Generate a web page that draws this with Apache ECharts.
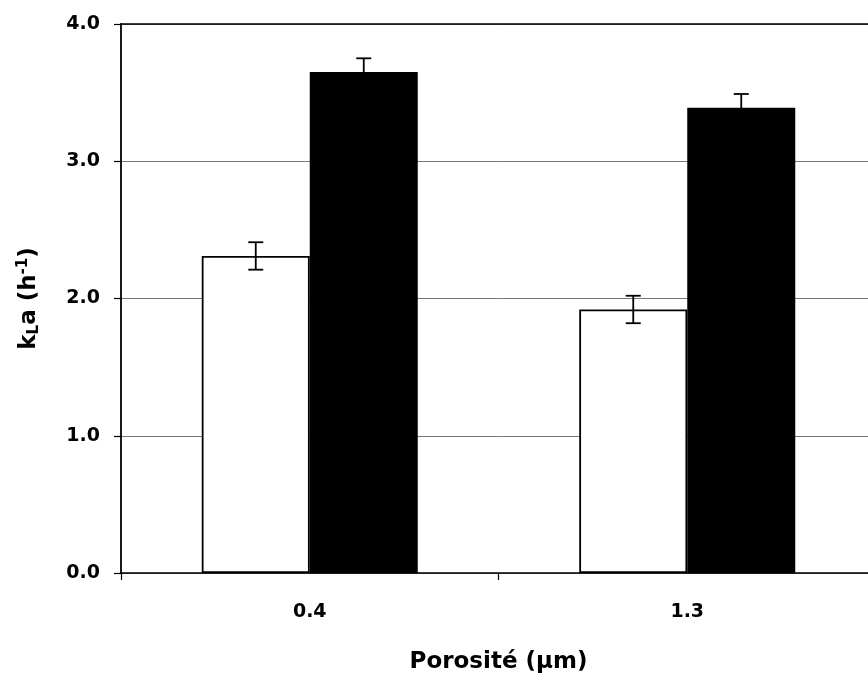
<!DOCTYPE html>
<html>
<head>
<meta charset="utf-8">
<script src="https://cdn.jsdelivr.net/npm/echarts@6/dist/echarts.min.js"></script>
<style>
  html, body { margin: 0; padding: 0; background: #fff; overflow: hidden; }
  #chart { width: 876px; height: 680px; }
</style>
</head>
<body>
<div id="chart"></div>
<script>
var categories = ['0.4', '1.3'];
var whiteVals = [2.31, 1.92];
var blackVals = [3.65, 3.39];
var whiteErr = [0.10, 0.10];
var blackErr = [0.10, 0.10];
var yTicks = [0, 1, 2, 3, 4];

var barW = 108;
var font = '"DejaVu Sans", "Liberation Sans", sans-serif';

// error bars drawn as I shapes, shifted onto each bar of the pair
function errItem(shift) {
    return function (params, api) {
        var idx = api.value(0);
        var lo = api.coord([idx, api.value(1)]);
        var hi = api.coord([idx, api.value(2)]);
        var x = lo[0] + shift;
        var cap = 7.5;
        var st = { stroke: '#000', lineWidth: 1.8 };
        return {
            type: 'group',
            children: [
                { type: 'line', shape: { x1: x, y1: lo[1], x2: x, y2: hi[1] }, style: st },
                { type: 'line', shape: { x1: x - cap, y1: lo[1], x2: x + cap, y2: lo[1] }, style: st },
                { type: 'line', shape: { x1: x - cap, y1: hi[1], x2: x + cap, y2: hi[1] }, style: st }
            ]
        };
    };
}

function errData(vals, errs) {
    return vals.map(function (v, i) { return [i, v - errs[i], v + errs[i]]; });
}

var myChart = echarts.init(document.getElementById('chart'));
myChart.setOption({
    backgroundColor: '#fff',
    animation: false,
    grid: { left: 121, right: 0, top: 24, bottom: 107 },
    xAxis: [{
        type: 'category',
        data: categories,
        name: 'Porosité (μm)',
        nameLocation: 'middle',
        nameGap: 78,
        nameTextStyle: { fontFamily: font, fontWeight: 'bold', fontSize: 23, color: '#000' },
        axisLine: { lineStyle: { color: '#000', width: 1.5 } },
        axisTick: { show: true, length: 7, lineStyle: { color: '#000', width: 1.2 } },
        axisLabel: { margin: 30, fontFamily: font, fontWeight: 'bold', fontSize: 19, color: '#000' }
    }, {
        type: 'category',
        data: categories,
        position: 'top',
        axisLine: { lineStyle: { color: '#000', width: 1.5 } },
        axisTick: { show: false },
        axisLabel: { show: false }
    }],
    yAxis: {
        type: 'value',
        min: yTicks[0],
        max: yTicks[yTicks.length - 1],
        interval: 1,
        name: 'k{sub|L}a (h{sup|-1})',
        nameLocation: 'middle',
        nameGap: 79,
        nameTextStyle: {
            fontFamily: font, fontWeight: 'bold', fontSize: 23, color: '#000',
            rich: {
                sub: { fontFamily: font, fontWeight: 'bold', fontSize: 15, color: '#000', padding: [11, 0, 0, 0] },
                sup: { fontFamily: font, fontWeight: 'bold', fontSize: 15, color: '#000', padding: [0, 0, 11, 0] }
            }
        },
        axisLine: { show: true, lineStyle: { color: '#000', width: 1.8 } },
        axisTick: { show: true, length: 7, lineStyle: { color: '#000', width: 1.2 } },
        axisLabel: {
            margin: 21, fontFamily: font, fontWeight: 'bold', fontSize: 19, color: '#000',
            formatter: function (v) { return v.toFixed(1); }
        },
        splitLine: { show: true, lineStyle: { color: '#777', width: 1 } }
    },
    series: [{
        type: 'bar',
        data: whiteVals,
        barWidth: barW,
        barGap: '0%',
        itemStyle: { color: '#fff', borderColor: '#000', borderWidth: 1.8 }
    }, {
        type: 'bar',
        data: blackVals,
        barWidth: barW,
        itemStyle: { color: '#000', borderColor: '#000', borderWidth: 0 }
    }, {
        type: 'custom',
        renderItem: errItem(-barW / 2),
        data: errData(whiteVals, whiteErr),
        encode: { x: 0, y: [1, 2] },
        z: 5
    }, {
        type: 'custom',
        renderItem: errItem(barW / 2),
        data: errData(blackVals, blackErr),
        encode: { x: 0, y: [1, 2] },
        z: 5
    }]
});
</script>
</body>
</html>
